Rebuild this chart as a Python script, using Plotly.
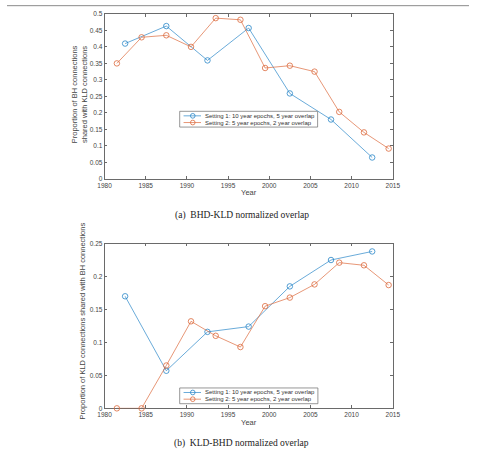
import plotly.graph_objects as go

W, H = 477, 452

# ---- data ----
years_s1 = [1982.5, 1987.5, 1992.5, 1997.5, 2002.5, 2007.5, 2012.5]
years_s2 = [1981.5, 1984.5, 1987.5, 1990.5, 1993.5, 1996.5, 1999.5, 2002.5,
            2005.5, 2008.5, 2011.5, 2014.5]
bhd_kld_s1 = [0.410, 0.463, 0.359, 0.457, 0.259, 0.180, 0.065]
bhd_kld_s2 = [0.350, 0.429, 0.435, 0.400, 0.487, 0.482, 0.336, 0.343,
              0.325, 0.203, 0.141, 0.092]
kld_bhd_s1 = [0.170, 0.057, 0.116, 0.124, 0.185, 0.225, 0.238]
kld_bhd_s2 = [0.0, 0.0, 0.065, 0.132, 0.110, 0.093, 0.155, 0.168,
              0.188, 0.221, 0.217, 0.187]
series_names = ["Setting 1: 10 year epochs, 5 year overlap",
                "Setting 2: 5 year epochs, 2 year overlap"]
x_ticks = [1980, 1985, 1990, 1995, 2000, 2005, 2010, 2015]
captions = ["(a)\u00a0\u00a0BHD-KLD normalized overlap",
            "(b)\u00a0\u00a0KLD-BHD normalized overlap"]
ytitles = ["Proportion of BH connections<br>shared with KLD connections",
           "Proportion of KLD connections shared with BH connections"]

COLORS = ["#2a86c8", "#dc6a3c"]
SANS = "Liberation Sans, Arial, sans-serif"
SERIF = "Liberation Serif, Times New Roman, serif"
AXC = "#6a6a6a"


def px(x):
    return x / W


def py(y):
    return 1 - y / H


fig = go.Figure()

panels = [
    dict(xa="x", ya="y", s1=bhd_kld_s1, s2=bhd_kld_s2, yr=[0, 0.5], dt=0.05,
         dom_x=[px(100.7), px(398.3)], dom_y=[py(177.7), py(10)]),
    dict(xa="x2", ya="y2", s1=kld_bhd_s1, s2=kld_bhd_s2, yr=[0, 0.25], dt=0.05,
         dom_x=[px(100.7), px(398.3)], dom_y=[py(410.7), py(243.3)]),
]

for p in panels:
    for xs, ys, c in [(years_s1, p["s1"], COLORS[0]), (years_s2, p["s2"], COLORS[1])]:
        fig.add_trace(go.Scatter(
            x=xs, y=ys, xaxis=p["xa"], yaxis=p["ya"], mode="lines+markers",
            line=dict(color=c, width=0.7), cliponaxis=False,
            marker=dict(symbol="circle-open", size=5.5, color=c, line=dict(width=0.8)),
            showlegend=False, hoverinfo="skip"))

axis_common = dict(showline=True, linecolor=AXC, linewidth=0.7, mirror="ticks",
                   ticks="inside", ticklen=3, tickwidth=0.6, tickcolor=AXC,
                   showgrid=False, zeroline=False, layer="below traces",
                   tickfont=dict(family=SANS, size=6.5, color="#444"))

layout = dict(width=W, height=H, margin=dict(l=0, r=0, t=0, b=0),
              paper_bgcolor="white", plot_bgcolor="white", showlegend=False)

for i, p in enumerate(panels):
    sx = "" if i == 0 else "2"
    layout["xaxis" + sx] = dict(axis_common, domain=p["dom_x"], range=[1980, 2015],
                                tickvals=x_ticks, anchor="y" + sx,
                                title=dict(text="Year", standoff=2,
                                           font=dict(family=SANS, size=7.5, color="#444")))
    layout["yaxis" + sx] = dict(axis_common, domain=p["dom_y"], range=p["yr"],
                                dtick=p["dt"], tick0=0, anchor="x" + sx)
fig.update_layout(**layout)

shapes = []
annotations = []

# top rule
shapes.append(dict(type="line", xref="paper", yref="paper", x0=0, x1=1,
                   y0=py(1.7), y1=py(1.7), line=dict(color="#8a8a8a", width=1)))

# y-axis titles
for cx, cy, t in [(74.5, 91.5, ytitles[0]), (77, 322, ytitles[1])]:
    annotations.append(dict(xref="paper", yref="paper", x=px(cx), y=py(cy),
                            text=t, textangle=-90, showarrow=False,
                            xanchor="center", yanchor="middle",
                            font=dict(family=SANS, size=7.5, color="#444")))

# captions
for cy, t in [(214.5, captions[0]), (446.5, captions[1])]:
    annotations.append(dict(xref="paper", yref="paper", x=px(242.5), y=py(cy),
                            text=t, showarrow=False, xanchor="center", yanchor="middle",
                            font=dict(family=SERIF, size=9.5, color="#222")))

# manual legends
for (bx0, by0, bx1, by1) in [(178.3, 109.0, 320.7, 125.0), (178.3, 390.0, 321.0, 406.0)]:
    shapes.append(dict(type="rect", xref="paper", yref="paper",
                       x0=px(bx0), x1=px(bx1), y0=py(by1), y1=py(by0),
                       line=dict(color="#6a6a6a", width=0.7), fillcolor="white"))
    for k, (name, c) in enumerate(zip(series_names, COLORS)):
        ry = by0 + 4.6 + k * 6.8
        shapes.append(dict(type="line", xref="paper", yref="paper",
                           x0=px(bx0 + 4), x1=px(bx0 + 22), y0=py(ry), y1=py(ry),
                           line=dict(color=c, width=0.7)))
        r = 2.4
        shapes.append(dict(type="circle", xref="paper", yref="paper",
                           x0=px(bx0 + 13.5 - r), x1=px(bx0 + 13.5 + r),
                           y0=py(ry + r), y1=py(ry - r),
                           line=dict(color=c, width=0.8), fillcolor="rgba(0,0,0,0)"))
        annotations.append(dict(xref="paper", yref="paper", x=px(bx0 + 24.5), y=py(ry),
                                text=name, showarrow=False, xanchor="left",
                                yanchor="middle",
                                font=dict(family=SANS, size=6, color="#333")))

fig.update_layout(shapes=shapes, annotations=annotations)
fig.write_html("out.html")
